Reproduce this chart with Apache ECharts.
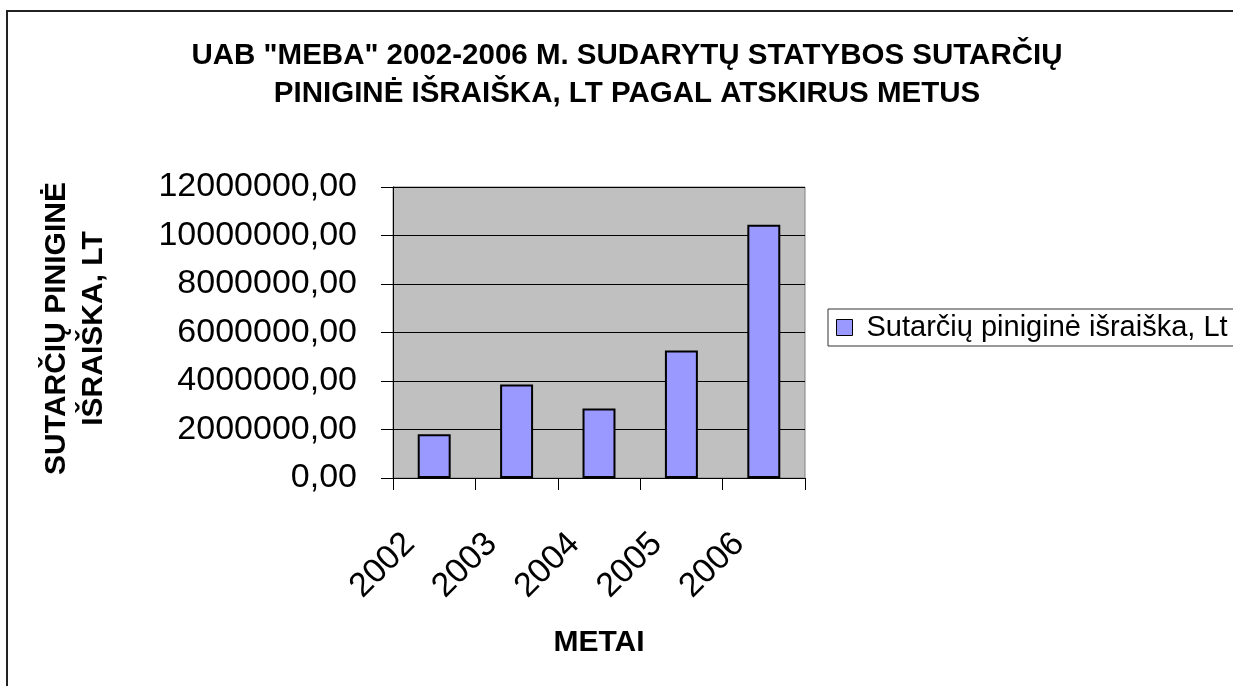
<!DOCTYPE html>
<html>
<head>
	<title>Sutarčių piniginė išraiška</title>
	<meta http-equiv="Content-Type" content="text/html; charset=utf-8">
	<style>
		* {
			margin: 0;
			padding: 0;
			box-sizing: border-box;
		}

		body {
			overflow: hidden;
			background-color: #ffffff;
		}

		#chart {
			width: 1233px;
			height: 686px;
		}
	</style>
	<script type="text/javascript" src="https://cdn.jsdelivr.net/npm/echarts@6/dist/echarts.min.js"></script>
</head>
<body>
<div id="chart"></div>
<script>
	// data
	var years = ['2002', '2003', '2004', '2005', '2006'];
	var contractValues = [1800000, 3855000, 2865000, 5255000, 10440000];
	var seriesName = 'Sutarčių piniginė išraiška, Lt';
	var titleText = 'UAB "MEBA" 2002-2006 M. SUDARYTŲ STATYBOS SUTARČIŲ\nPINIGINĖ IŠRAIŠKA, LT PAGAL ATSKIRUS METUS';
	var yName = 'SUTARČIŲ PINIGINĖ\nIŠRAIŠKA, LT';
	var xName = 'METAI';

	var FONT = "'Liberation Sans', Arial, sans-serif";

	var chartDiv = document.getElementById('chart');
	var myChart = echarts.init(chartDiv, null, {renderer: 'canvas'});

	var option = {
		backgroundColor: '#ffffff',
		animation: false,
		title: {
			text: titleText,
			// title sits a bit right of the page centre
			left: 627,
			top: 37,
			textAlign: 'center',
			padding: 0,
			textStyle: {
				fontFamily: FONT,
				fontSize: 29.5,
				fontWeight: 'bold',
				color: '#000',
				lineHeight: 38
			}
		},
		// outer frame of the chart area
		graphic: [{
			type: 'rect',
			shape: {x: 7, y: 11, width: 1240, height: 700},
			style: {fill: 'none', stroke: '#222', lineWidth: 2},
			silent: true
		}],
		legend: {
			data: [seriesName],
			left: 828,
			top: 309,
			orient: 'vertical',
			padding: [4, 40, 4, 8],
			backgroundColor: '#fff',
			borderColor: '#333',
			borderWidth: 1,
			borderRadius: 0,
			itemWidth: 16,
			itemHeight: 16,
			icon: 'rect',
			itemStyle: {
				color: '#9999FF',
				borderColor: '#000',
				borderWidth: 1
			},
			textStyle: {
				fontFamily: FONT,
				fontSize: 29,
				color: '#000',
				padding: [0, 0, 0, 9]
			}
		},
		grid: {
			left: 393,
			top: 187,
			width: 412,
			height: 291,
			show: true,
			backgroundColor: '#C0C0C0',
			borderColor: '#808080',
			borderWidth: 1
		},
		xAxis: {
			type: 'category',
			data: years,
			boundaryGap: true,
			name: xName,
			nameLocation: 'middle',
			nameGap: 150,
			nameTextStyle: {
				fontFamily: FONT,
				fontSize: 30,
				fontWeight: 'bold',
				color: '#000'
			},
			axisLine: {lineStyle: {color: '#000', width: 1}},
			axisTick: {show: true, length: 12, lineStyle: {color: '#000'}},
			axisLabel: {
				rotate: 45,
				margin: 36,
				padding: [0, 35, 0, 0],
				fontFamily: FONT,
				fontSize: 34,
				color: '#000'
			},
			splitLine: {show: false}
		},
		yAxis: {
			type: 'value',
			min: 0,
			max: 12000000,
			interval: 2000000,
			name: yName,
			nameLocation: 'middle',
			nameGap: 281,
			nameRotate: 90,
			nameTextStyle: {
				fontFamily: FONT,
				fontSize: 30,
				fontWeight: 'bold',
				color: '#000',
				lineHeight: 37,
				align: 'center',
				padding: [0, 0, 0, 8]
			},
			axisLine: {show: true, lineStyle: {color: '#000', width: 1}},
			axisTick: {show: true, length: 12, lineStyle: {color: '#000'}},
			axisLabel: {
				margin: 36,
				fontFamily: FONT,
				fontSize: 34,
				color: '#000',
				formatter: function (v) {
					return v.toFixed(2).replace('.', ',');
				}
			},
			splitLine: {show: true, lineStyle: {color: '#000', width: 1}}
		},
		series: [{
			name: seriesName,
			type: 'bar',
			data: contractValues,
			barCategoryGap: '60%',
			itemStyle: {
				color: '#9999FF',
				borderColor: '#000',
				borderWidth: 2
			}
		}]
	};

	myChart.setOption(option);
</script>
</body>
</html>
